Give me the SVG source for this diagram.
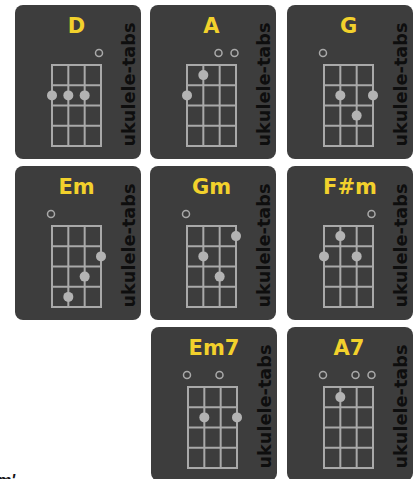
<svg xmlns="http://www.w3.org/2000/svg" xmlns:xlink="http://www.w3.org/1999/xlink" width="414" height="479" viewBox="0 0 414 479">
<style>
.bg{fill:#3d3d3d}
.grid{fill:none;stroke:#a9a9a9;stroke-width:2}
.brand{font-family:"DejaVu Sans",Verdana,sans-serif;font-weight:bold;font-size:18px;fill:#0e0e0e}
.title{font-family:"DejaVu Sans",Verdana,sans-serif;font-weight:bold;font-size:21px;fill:#f2d12c;text-anchor:middle}
.dot{fill:#b3b3b3}
.open{fill:none;stroke:#a9a9a9;stroke-width:1.5}
</style>
<defs>
<g id="card">
<rect class="bg" x="0" y="0" width="126" height="154" rx="8" ry="8"/>
<path class="grid" d="M37,60H86V141H37Z M53.33,60V141 M69.67,60V141 M37,80.25H86 M37,100.5H86 M37,120.75H86"/>
<text class="brand" transform="translate(120,79.5) rotate(-90)" text-anchor="middle" textLength="124" lengthAdjust="spacingAndGlyphs">ukulele-tabs</text>
</g>
</defs>
<g id="chord-D" transform="translate(15,5)">
<use xlink:href="#card"/>
<text class="title" x="61.5" y="28">D</text>
<circle class="open" cx="84" cy="48" r="3.5"/>
<circle class="dot" cx="37" cy="90.4" r="5"/>
<circle class="dot" cx="53.33" cy="90.4" r="5"/>
<circle class="dot" cx="69.67" cy="90.4" r="5"/>
</g>
<g id="chord-A" transform="translate(150,5)">
<use xlink:href="#card"/>
<text class="title" x="61.5" y="28">A</text>
<circle class="open" cx="68.5" cy="48" r="3.5"/>
<circle class="open" cx="84.5" cy="48" r="3.5"/>
<circle class="dot" cx="37" cy="90.4" r="5"/>
<circle class="dot" cx="53.33" cy="70.1" r="5"/>
</g>
<g id="chord-G" transform="translate(287,5)">
<use xlink:href="#card"/>
<text class="title" x="61.5" y="28">G</text>
<circle class="open" cx="36" cy="48" r="3.5"/>
<circle class="dot" cx="53.33" cy="90.4" r="5"/>
<circle class="dot" cx="69.67" cy="110.6" r="5"/>
<circle class="dot" cx="86" cy="90.4" r="5"/>
</g>
<g id="chord-Em" transform="translate(15,166)">
<use xlink:href="#card"/>
<text class="title" x="61.5" y="28">Em</text>
<circle class="open" cx="36" cy="48" r="3.5"/>
<circle class="dot" cx="53.33" cy="130.9" r="5"/>
<circle class="dot" cx="69.67" cy="110.6" r="5"/>
<circle class="dot" cx="86" cy="90.4" r="5"/>
</g>
<g id="chord-Gm" transform="translate(150,166)">
<use xlink:href="#card"/>
<text class="title" x="61.5" y="28">Gm</text>
<circle class="open" cx="36" cy="48" r="3.5"/>
<circle class="dot" cx="53.33" cy="90.4" r="5"/>
<circle class="dot" cx="69.67" cy="110.6" r="5"/>
<circle class="dot" cx="86" cy="70.1" r="5"/>
</g>
<g id="chord-Fsm" transform="translate(287,166)">
<use xlink:href="#card"/>
<text class="title" x="63" y="28">F#m</text>
<circle class="open" cx="84.5" cy="48" r="3.5"/>
<circle class="dot" cx="37" cy="90.4" r="5"/>
<circle class="dot" cx="53.33" cy="70.1" r="5"/>
<circle class="dot" cx="69.67" cy="90.4" r="5"/>
</g>
<g id="chord-Em7" transform="translate(151,327)">
<use xlink:href="#card"/>
<text class="title" x="63" y="28">Em7</text>
<circle class="open" cx="36" cy="48" r="3.5"/>
<circle class="open" cx="68.5" cy="48" r="3.5"/>
<circle class="dot" cx="53.33" cy="90.4" r="5"/>
<circle class="dot" cx="86" cy="90.4" r="5"/>
</g>
<g id="chord-A7" transform="translate(287,327)">
<use xlink:href="#card"/>
<text class="title" x="62" y="28">A7</text>
<circle class="open" cx="36" cy="48" r="3.5"/>
<circle class="open" cx="68.5" cy="48" r="3.5"/>
<circle class="open" cx="84.5" cy="48" r="3.5"/>
<circle class="dot" cx="53.33" cy="70.1" r="5"/>
</g>
<g id="connectors"/>
<text x="-3" y="486" font-family="Liberation Sans, Arial, sans-serif" font-style="italic" font-weight="bold" font-size="16" fill="#111">m'</text>
</svg>
